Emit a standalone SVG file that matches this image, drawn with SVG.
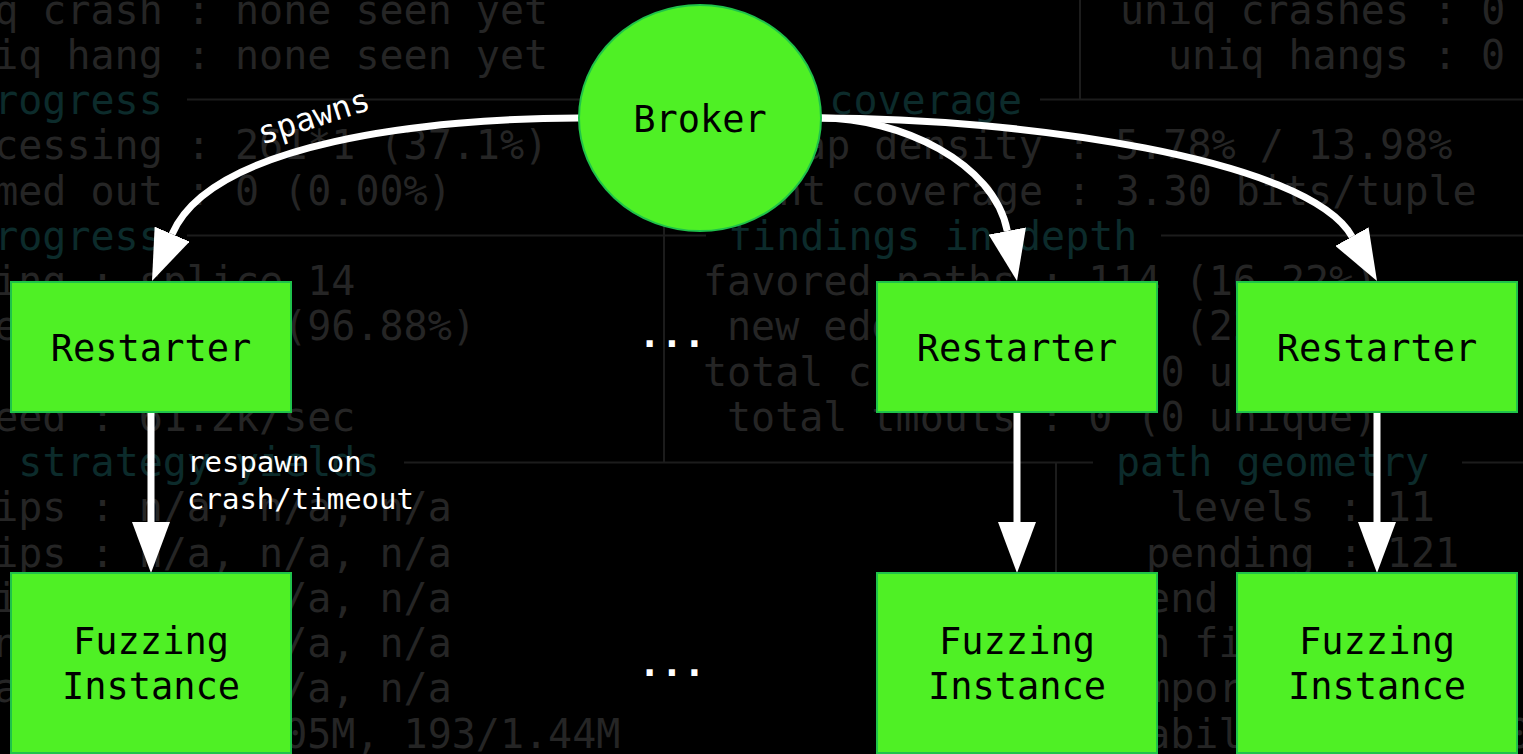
<svg xmlns="http://www.w3.org/2000/svg" width="1523" height="754" viewBox="0 0 1523 754">
<defs>
<style>
.bg{font-family:"DejaVu Sans Mono","Liberation Mono",monospace;font-size:40px;fill:#252525}
.hd{fill:#0c2b2b}
.ln{stroke:#1c1c1c;stroke-width:2;fill:none}
.node{fill:#4ff025;stroke:#1fc24a;stroke-width:2}
.lbl{font-family:"DejaVu Sans Mono","Liberation Mono",monospace;font-size:37px;fill:#000;text-anchor:middle}
.edge{stroke:#fff;stroke-width:7;fill:none}
.elbl{font-family:"DejaVu Sans Mono","Liberation Mono",monospace;font-size:29px;fill:#fff}
.big{font-size:32px}
.dots{font-family:"DejaVu Sans Mono","Liberation Mono",monospace;font-size:37px;font-weight:bold;fill:#fff;text-anchor:middle}
</style>
<marker id="ah" viewBox="0 0 51 38" refX="0" refY="19" markerWidth="51" markerHeight="38" markerUnits="userSpaceOnUse" orient="auto"><path d="M0,0 L51,19 L0,38 Z" fill="#fff"/></marker>
</defs>
<rect x="0" y="0" width="1523" height="754" fill="#000"/>
<g id="background">
<path class="ln" d="M1080,0 V99.5 M187,99.5 H710 M1040,99.5 H1523 M664,99.5 V462.5 M187,235.5 H706 M1161,235.5 H1523 M404,462.5 H1093 M1462,462.5 H1523 M1056,462.5 V754"/>
<text class="bg" x="-5.8" y="23.5">q crash : none seen yet</text>
<text class="bg" x="-5.8" y="68.8">iq hang : none seen yet</text>
<text class="bg hd" x="-5.8" y="114">rogress</text>
<text class="bg" x="-5.8" y="159.3">cessing : 261*1 (37.1%)</text>
<text class="bg" x="-5.8" y="204.5">med out : 0 (0.00%)</text>
<text class="bg hd" x="-5.8" y="249.8">rogress</text>
<text class="bg" x="-5.8" y="295.1">ing : splice 14</text>
<text class="bg" x="-5.8" y="340.3">ecs : 31/32 (96.88%)</text>
<text class="bg" x="-5.8" y="430.8">eed : 61.2k/sec</text>
<text class="bg hd" x="18.3" y="476.1">strategy yields</text>
<text class="bg" x="-5.8" y="521.4">ips : n/a, n/a, n/a</text>
<text class="bg" x="-5.8" y="566.6">ips : n/a, n/a, n/a</text>
<text class="bg" x="-5.8" y="611.9">ics : n/a, n/a, n/a</text>
<text class="bg" x="-5.8" y="657.1">nts : n/a, n/a, n/a</text>
<text class="bg" x="-5.8" y="702.4">ary : n/a, n/a, n/a</text>
<text class="bg" x="283.2" y="747.7">05M, 193/1.44M</text>
<text class="bg" x="1120" y="23.5">uniq crashes : 0</text>
<text class="bg" x="1168" y="68.8">uniq hangs : 0</text>
<text class="bg hd" x="733" y="114">map coverage</text>
<text class="bg" x="778" y="159.3">map density : 5.78% / 13.98%</text>
<text class="bg" x="706" y="204.5">count coverage : 3.30 bits/tuple</text>
<text class="bg hd" x="728" y="249.8">findings in depth</text>
<text class="bg" x="703" y="295.1">favored paths : 114 (16.22%)</text>
<text class="bg" x="727" y="340.3">new edges on : 157 (22.36%)</text>
<text class="bg" x="703" y="385.6">total crashes : 0 (0 unique)</text>
<text class="bg" x="727" y="430.8">total tmouts : 0 (0 unique)</text>
<text class="bg hd" x="1116" y="476.1">path geometry</text>
<text class="bg" x="1170" y="521.4">levels : 11</text>
<text class="bg" x="1146" y="566.6">pending : 121</text>
<text class="bg" x="1122" y="611.9">pend fav : 0</text>
<text class="bg" x="1098" y="657.1">own finds : 0</text>
<text class="bg" x="1122" y="702.4">imported : 0</text>
<text class="bg" x="1098" y="747.7">stability : 100.00%</text>
</g>
<g id="connectors">
<path class="edge" d="M579,118 C430,118 211.5,142.2 172.1,234.1" marker-end="url(#ah)"/>
<path class="edge" d="M821,118 C900,118 994,162.4 1007.3,231" marker-end="url(#ah)"/>
<path class="edge" d="M821,118 C1020,118 1308,158.3 1352,236.6" marker-end="url(#ah)"/>
<path class="edge" d="M151,412 V522" marker-end="url(#ah)"/>
<path class="edge" d="M1017,412 V522" marker-end="url(#ah)"/>
<path class="edge" d="M1377,412 V522" marker-end="url(#ah)"/>
<text class="elbl big" x="317" y="127" text-anchor="middle" transform="rotate(-18 317 127)">spawns</text>
<text class="elbl" x="187" y="472">respawn on</text>
<text class="elbl" x="187" y="509">crash/timeout</text>
</g>
<g id="broker"><ellipse class="node" cx="700" cy="118" rx="121" ry="113"/><text class="lbl" x="700" y="132">Broker</text></g>
<g id="restarter1"><rect class="node" x="11" y="282" width="280" height="130"/><text class="lbl" x="151" y="361">Restarter</text></g>
<g id="restarter2"><rect class="node" x="877" y="282" width="280" height="130"/><text class="lbl" x="1017" y="361">Restarter</text></g>
<g id="restarter3"><rect class="node" x="1237" y="282" width="280" height="130"/><text class="lbl" x="1377" y="361">Restarter</text></g>
<g id="ellipsis1"><text class="dots" x="672" y="347">...</text></g>
<g id="fuzzer1"><rect class="node" x="11" y="573" width="280" height="180"/><text class="lbl" x="151" y="654">Fuzzing</text><text class="lbl" x="151" y="699">Instance</text></g>
<g id="ellipsis2"><text class="dots" x="672" y="676">...</text></g>
<g id="fuzzer2"><rect class="node" x="877" y="573" width="280" height="180"/><text class="lbl" x="1017" y="654">Fuzzing</text><text class="lbl" x="1017" y="699">Instance</text></g>
<g id="fuzzer3"><rect class="node" x="1237" y="573" width="280" height="180"/><text class="lbl" x="1377" y="654">Fuzzing</text><text class="lbl" x="1377" y="699">Instance</text></g>
</svg>
